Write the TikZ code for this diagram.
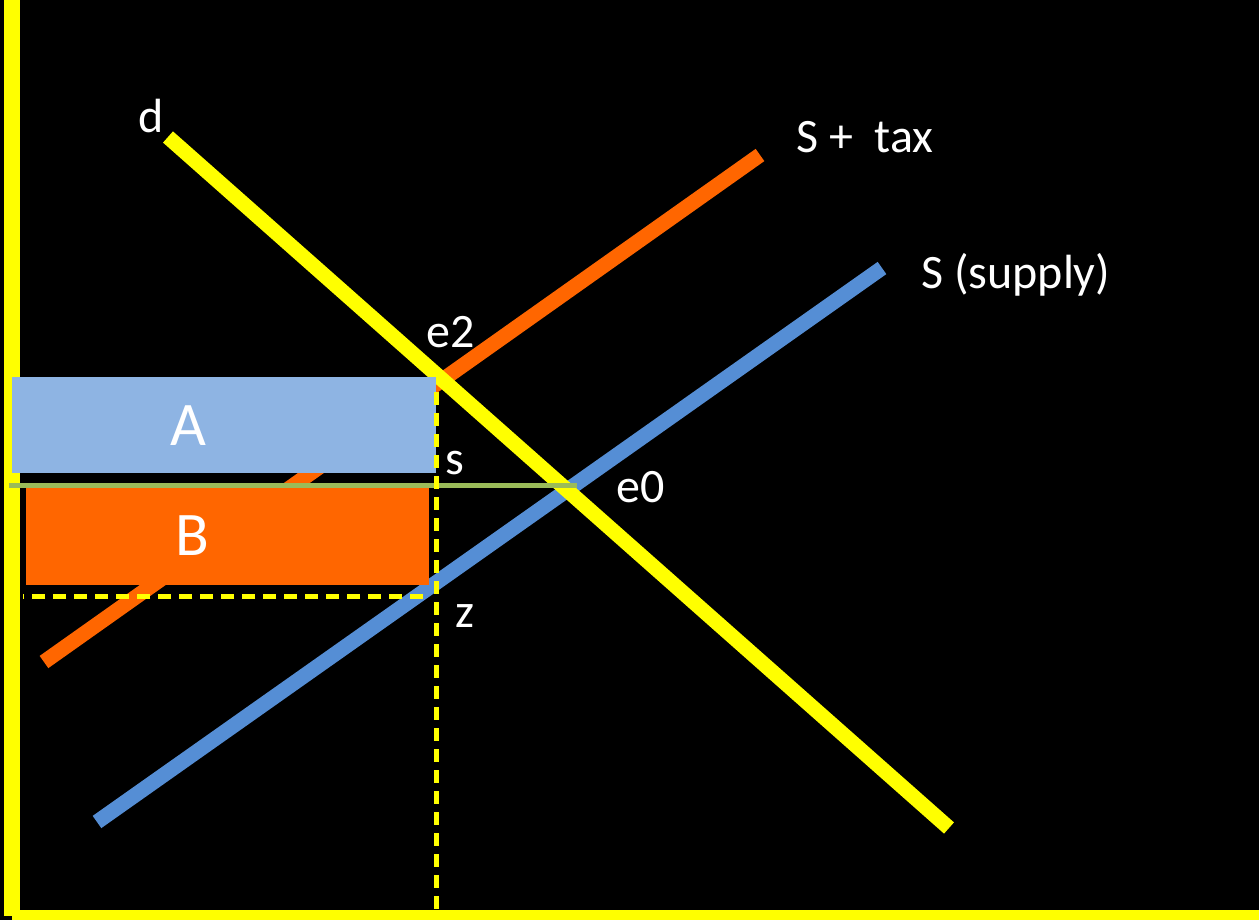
\documentclass[tikz,border=0pt]{standalone}
\usepackage{fontspec}
\setmainfont{Carlito}
\usepackage{tikz}
\usetikzlibrary{calc}
\definecolor{axisyellow}{HTML}{FFFF00}
\definecolor{taxorange}{HTML}{FF6600}
\definecolor{supplyblue}{HTML}{558ED5}
\definecolor{arealight}{HTML}{8EB4E3}
\definecolor{pricegreen}{HTML}{9BBB59}

\begin{document}
\begin{tikzpicture}[
  x=1pt, y=-1pt,
  curve/.style={line width=15pt},
  guide/.style={draw=axisyellow, line width=5pt, dash pattern=on 13pt off 8pt},
  lbl/.style={text=white, font=\fontsize{48}{54}\selectfont, anchor=base west, inner sep=0pt},
  arealbl/.style={text=white, font=\fontsize{62}{68}\selectfont, anchor=base, inner sep=0pt}
]
  \fill[black] (0,0) rectangle (1259,920);
  \useasboundingbox (0,0) rectangle (1259,920);

  % end points of the curves
  \coordinate (d0) at (168,137);
  \coordinate (d1) at (949,828);
  \coordinate (t0) at (44,662);
  \coordinate (t1) at (760,155);
  \coordinate (s0) at (97,822);
  \coordinate (s1) at (882,268);

  % axes
  \draw[axisyellow, line width=16pt] (12,0) -- (12,916);
  \draw[axisyellow, line width=10pt] (12,915) -- (1259,915);

  % supply, supply + tax, demand
  \draw[curve, supplyblue] (s0) -- (s1);
  \draw[curve, taxorange] (t0) -- (t1);
  \draw[curve, axisyellow] (d0) -- (d1);

  % areas A and B
  \fill[arealight] (12,377) rectangle (436,473);
  \fill[taxorange] (26,488) rectangle (429,585);
  \draw[pricegreen, line width=5pt] (9,485) -- (577,485);

  % guides from e2 and z
  \coordinate (e2pt) at (436,392);
  \coordinate (axpt) at (436,910);
  \coordinate (zpt) at (423,596);
  \coordinate (ypt) at (23,596);
  \draw[guide] (e2pt) -- (axpt);
  \draw[guide] (zpt) -- (ypt);

  % labels
  \node[lbl] (dlab) at (138,133) {d};
  \node[lbl] (taxlab) at (796,153) {S +\ \ tax};
  \node[lbl] (supplab) at (921,288) {S (supply)};
  \node[lbl] (e2lab) at (426,347) {e2};
  \node[lbl] (slab) at (445,474) {s};
  \node[lbl] (e0lab) at (616,502) {e0};
  \node[lbl] (zlab) at (455,627) {z};
  \node[arealbl] (alab) at (188,445) {A};
  \node[arealbl] (blab) at (192,555) {B};
\end{tikzpicture}
\end{document}
